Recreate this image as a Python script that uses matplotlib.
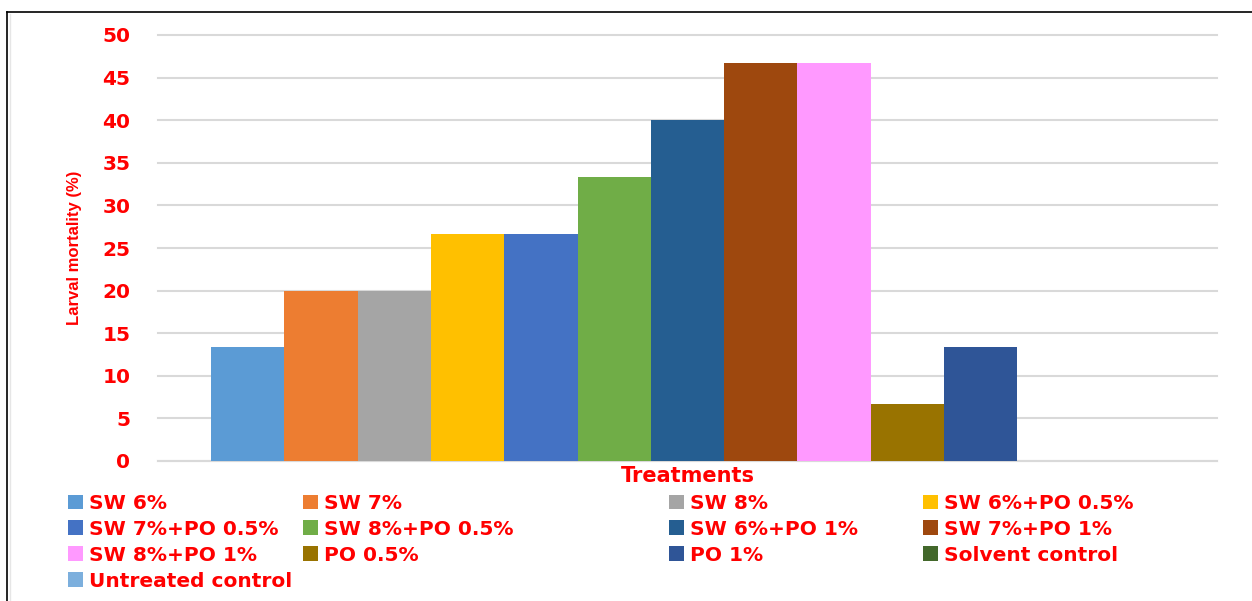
import matplotlib.pyplot as plt
from matplotlib.lines import Line2D

# larval mortality per treatment (%)
treatments = ['SW 6%', 'SW 7%', 'SW 8%', 'SW 6%+PO 0.5%', 'SW 7%+PO 0.5%',
              'SW 8%+PO 0.5%', 'SW 6%+PO 1%', 'SW 7%+PO 1%', 'SW 8%+PO 1%',
              'PO 0.5%', 'PO 1%', 'Solvent control', 'Untreated control']
mortality = [13.33, 20, 20, 26.67, 26.67, 33.33, 40, 46.67, 46.67, 6.67, 13.33, 0, 0]
colors = ['#5B9BD5', '#ED7D31', '#A5A5A5', '#FFC000', '#4472C4', '#70AD47',
          '#255E91', '#9E480E', '#FF99FF', '#997300', '#2F5597', '#43682B', '#7CAFDD']
yticks = [0, 5, 10, 15, 20, 25, 30, 35, 40, 45, 50]

red = '#FF0000'

fig = plt.figure(figsize=(12.52, 6.01), dpi=100)
ax = fig.add_axes([158 / 1252, 1 - 461 / 601, (1217 - 158) / 1252, (461 - 35) / 601])

n = len(mortality)
group = 0.9
w = group / n
bars = []
for i, (lab, v, c) in enumerate(zip(treatments, mortality, colors)):
    x = -group / 2 + w * (i + 0.5)
    b = ax.bar(x, v, width=w, color=c, label=lab, zorder=3)
    bars.append(b)

ax.set_xlim(-0.5, 0.5)
ax.set_ylim(0, 50)
ax.set_yticks(yticks)
ax.set_xticks([])
ax.grid(axis='y', color='#D9D9D9', linewidth=1.5, zorder=0)
for gl in ax.get_ygridlines():
    gl.set_clip_on(False)
for s in ['top', 'right', 'left']:
    ax.spines[s].set_visible(False)
ax.spines['bottom'].set_color('#D9D9D9')
ax.spines['bottom'].set_linewidth(1.5)
ax.tick_params(axis='y', length=0, pad=20, labelsize=14.5, labelcolor=red)
for t in ax.get_yticklabels():
    t.set_fontweight('bold')

ax.set_ylabel('Larval mortality (%)', color=red, fontsize=12, family='Liberation Sans',
              fontweight='bold')
ax.yaxis.set_label_coords(-0.072, 0.5)
ax.text(0.5, -0.036, 'Treatments', transform=ax.transAxes, ha='center', va='center',
        color=red, fontsize=15, fontweight='bold')

# legend laid out in four columns, row by row
col_x = [68, 303, 669, 923]
for j, cx in enumerate(col_x):
    idx = list(range(j, n, 4))
    leg = fig.legend([bars[k] for k in idx], [treatments[k] for k in idx],
                     loc='upper left', bbox_to_anchor=(cx / 1252, 1 - 494 / 601),
                     frameon=False, borderpad=0, borderaxespad=0,
                     handlelength=0.75, handleheight=0.75, handletextpad=0.3,
                     labelspacing=0.34,
                     prop={'size': 14.5, 'weight': 'bold'})
    for t in leg.get_texts():
        t.set_color(red)

# outer frame
fig.add_artist(Line2D([7 / 1252, 7 / 1252], [0, 1 - 12 / 601], color='black', linewidth=1.2))
fig.add_artist(Line2D([7 / 1252, 1], [1 - 12 / 601, 1 - 12 / 601], color='black', linewidth=1.2))
fig.add_artist(Line2D([10 / 1252, 10 / 1252], [0, 1 - 14 / 601], color='#E6E6E6', linewidth=1))

fig.savefig('out.png', dpi=100)
